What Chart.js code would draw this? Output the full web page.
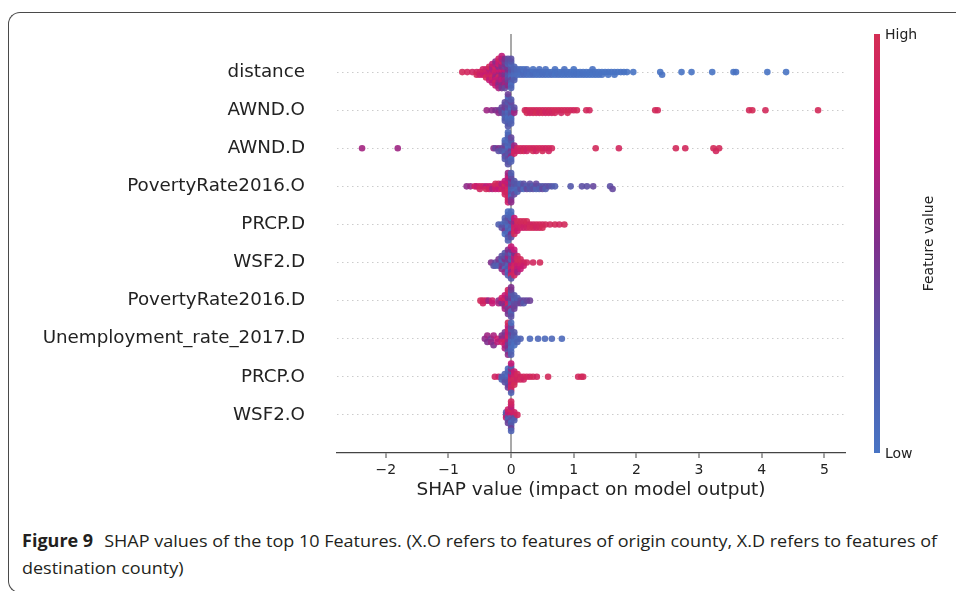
<!DOCTYPE html>
<html>
<head>
<meta charset="utf-8">
<script src="https://cdn.jsdelivr.net/npm/chart.js@4.4.1/dist/chart.umd.min.js"></script>
<style>
  html, body { margin:0; padding:0; background:#fff; }
  body { width:956px; height:591px; position:relative; overflow:hidden; }
  #frame { position:absolute; left:8px; top:12px; width:1000px; height:581px; border:1.5px solid #4a4a4a; border-right:none; border-radius:12px 0 0 12px; box-sizing:border-box; }
  #wrap { position:absolute; left:0; top:0; }
  .cap { position:absolute; left:22px; font-family:'Open Sans', sans-serif; font-size:17px; line-height:20px; color:#231f20; white-space:nowrap; transform-origin:0 50%; }
  .cap b { font-weight:700; margin-right:6px; }
</style>
</head>
<body>
<div id="frame"></div>
<div id="wrap"><canvas id="chart" width="956" height="505"></canvas></div>
<div class="cap" id="cap1" style="top:531px"><b>Figure 9</b> SHAP values of the top 10 Features. (X.O refers to features of origin county, X.D refers to features of</div>
<div class="cap" id="cap2" style="top:558px">destination county)</div>
<script>
// feature names, top row first
const features = ['distance', 'AWND.O', 'AWND.D', 'PovertyRate2016.O', 'PRCP.D',
  'WSF2.D', 'PovertyRate2016.D', 'Unemployment_rate_2017.D', 'PRCP.O', 'WSF2.O'];
const xTicks = [-2, -1, 0, 1, 2, 3, 4, 5];

// [shap value, feature value 0..1]
const distance = [
  [-0.78,.95],[-0.70,.93],[-0.62,.9],
  [-0.55,.88],[-0.55,.96],
  [-0.50,.92],[-0.50,.84],
  [-0.45,.94],[-0.45,.8],[-0.45,.88],
  [-0.40,.9],[-0.40,.76],[-0.40,.86],[-0.40,.97],
  [-0.35,.92],[-0.35,.8],[-0.35,.7],[-0.35,.88],[-0.35,.95],[-0.35,.74],
  [-0.30,.9],[-0.30,.82],[-0.30,.68],[-0.30,.95],[-0.30,.62],[-0.30,.85],[-0.30,.78],[-0.30,.72],
  [-0.25,.93],[-0.25,.7],[-0.25,.82],[-0.25,.6],[-0.25,.88],[-0.25,.75],[-0.25,.66],[-0.25,.9],[-0.25,.55],[-0.25,.8],
  [-0.20,.85],[-0.20,.62],[-0.20,.78],[-0.20,.92],[-0.20,.55],[-0.20,.7],[-0.20,.83],[-0.20,.6],[-0.20,.74],[-0.20,.5],[-0.20,.88],[-0.20,.66],
  [-0.15,.7],[-0.15,.55],[-0.15,.8],[-0.15,.62],[-0.15,.48],[-0.15,.75],[-0.15,.58],[-0.15,.68],[-0.15,.85],[-0.15,.52],[-0.15,.64],[-0.15,.45],[-0.15,.72],
  [-0.10,.6],[-0.10,.45],[-0.10,.7],[-0.10,.52],[-0.10,.38],[-0.10,.65],[-0.10,.48],[-0.10,.56],[-0.10,.4],[-0.10,.62],[-0.10,.5],[-0.10,.35],
  [-0.05,.4],[-0.05,.3],[-0.05,.5],[-0.05,.25],[-0.05,.45],[-0.05,.35],[-0.05,.2],[-0.05,.42],[-0.05,.28],[-0.05,.55],[-0.05,.32],
  [0.00,.2],[0.00,.15],[0.00,.28],[0.00,.1],[0.00,.22],[0.00,.32],[0.00,.12],[0.00,.18],[0.00,.25],[0.00,.08],[0.00,.3],[0.00,.14],
  [0.05,.12],[0.05,.1],[0.05,.18],[0.05,.08],[0.05,.15],[0.05,.2],
  [0.10,.1],[0.10,.06],[0.10,.12],
  [0.15,.08],[0.15,.05],[0.15,.1],
  [0.20,.06],[0.20,.09],[0.20,.04],
  [0.25,.07],[0.25,.05],[0.25,.08],
  [0.30,.06],[0.30,.04],
  [0.35,.05],[0.35,.07],[0.35,.03],
  [0.40,.05],[0.40,.04],
  [0.45,.06],[0.45,.03],[0.45,.05],
  [0.50,.04],[0.50,.05],
  [0.55,.03],[0.55,.05],[0.55,.04],
  [0.60,.04],[0.60,.03],
  [0.65,.03],[0.65,.05],
  [0.70,.04],[0.70,.02],[0.70,.03],
  [0.75,.03],[0.75,.04],
  [0.80,.02],[0.80,.03],
  [0.85,.03],[0.85,.02],[0.85,.04],
  [0.90,.02],[0.90,.03],
  [0.95,.03],[0.95,.02],
  [1.00,.02],[1.00,.03],[1.00,.01],
  [1.05,.02],[1.05,.03],
  [1.10,.02],[1.10,.01],
  [1.15,.02],[1.15,.03],
  [1.20,.01],[1.20,.02],
  [1.25,.02],[1.25,.01],
  [1.30,.02],[1.30,.01],[1.30,.03],
  [1.35,.01],[1.35,.02],
  [1.40,.02],[1.40,.01],
  [1.45,.01],[1.45,.02],
  [1.50,.01],
  [1.55,.02],[1.55,.01],
  [1.60,.01],
  [1.65,.02],[1.65,.01],
  [1.70,.01],[1.75,.01],[1.80,.02],[1.85,.01],
  [1.95,.01],[2.38,.01],[2.41,.02],[2.72,.01],[2.88,.01],[3.21,.01],[3.55,.01],[3.59,.02],[4.09,.01],[4.39,.01]
];
const awndO = [
  [-0.39,.6],[-0.31,.55],[-0.25,.5],[-0.20,.42],[-0.20,.55],
  [-0.15,.3],[-0.15,.4],[-0.15,.35],
  [-0.10,.3],[-0.10,.2],[-0.10,.45],[-0.10,.25],[-0.10,.38],[-0.10,.15],[-0.10,.32],[-0.10,.22],
  [-0.05,.2],[-0.05,.1],[-0.05,.28],[-0.05,.15],[-0.05,.35],[-0.05,.05],[-0.05,.22],[-0.05,.12],[-0.05,.3],[-0.05,.18],[-0.05,.08],[-0.05,.25],[-0.05,.4],
  [0.00,.15],[0.00,.25],[0.00,.1],[0.00,.3],[0.00,.2],[0.00,.05],[0.00,.35],[0.00,.12],[0.00,.22],[0.00,.18],
  [0.05,.45],[0.05,.6],[0.05,.3],
  [0.22,.95],[0.25,.92],[0.25,.97],[0.30,.95],[0.30,.9],[0.35,.96],[0.35,.93],[0.40,.92],[0.40,.98],
  [0.45,.95],[0.45,.9],[0.50,.94],[0.50,.97],[0.55,.93],[0.55,.9],[0.60,.96],[0.60,.92],[0.65,.95],[0.65,.9],
  [0.70,.97],[0.70,.93],[0.75,.94],[0.80,.96],[0.80,.91],[0.85,.95],[0.90,.93],[0.90,.97],[0.95,.94],[1.00,.92],[1.05,.95],
  [1.20,.95],[1.25,.93],[2.30,.96],[2.34,.94],[3.80,.95],[3.85,.97],[4.06,.95],[4.90,.96]
];
const awndD = [
  [-2.38,.62],[-1.81,.6],
  [-0.28,.55],[-0.25,.35],[-0.20,.5],[-0.20,.3],[-0.15,.4],[-0.15,.25],
  [-0.10,.3],[-0.10,.2],[-0.10,.4],[-0.10,.15],[-0.10,.25],[-0.10,.35],[-0.10,.1],[-0.10,.22],
  [-0.05,.1],[-0.05,.2],[-0.05,.05],[-0.05,.3],[-0.05,.15],[-0.05,.25],[-0.05,.08],[-0.05,.35],[-0.05,.12],[-0.05,.22],[-0.05,.18],[-0.05,.28],[-0.05,.1],
  [0.00,.2],[0.00,.45],[0.00,.1],[0.00,.3],[0.00,.15],[0.00,.55],[0.00,.25],[0.00,.05],[0.00,.35],[0.00,.18],
  [0.05,.7],[0.05,.85],[0.05,.6],[0.05,.9],
  [0.10,.92],[0.10,.85],[0.15,.95],[0.15,.88],[0.20,.9],[0.20,.96],[0.25,.93],[0.25,.87],[0.30,.95],
  [0.35,.9],[0.35,.97],[0.40,.93],[0.40,.88],[0.45,.95],[0.50,.92],[0.50,.96],[0.55,.9],[0.60,.94],[0.60,.9],[0.65,.93],
  [1.35,.95],[1.72,.93],[2.63,.95],[2.78,.94],[3.23,.96],[3.27,.93],[3.32,.95]
];
const povO = [
  [-0.71,.55],[-0.65,.6],[-0.58,.9],[-0.55,.8],[-0.50,.85],[-0.50,.92],[-0.45,.88],[-0.40,.7],[-0.40,.95],
  [-0.35,.8],[-0.35,.9],[-0.30,.85],[-0.30,.65],[-0.25,.9],[-0.25,.8],[-0.25,.95],[-0.20,.88],[-0.20,.75],[-0.20,.93],
  [-0.15,.85],[-0.15,.9],[-0.15,.7],
  [-0.10,.9],[-0.10,.8],[-0.10,.95],[-0.10,.85],[-0.10,.75],[-0.10,.92],
  [-0.05,.85],[-0.05,.9],[-0.05,.7],[-0.05,.95],[-0.05,.8],[-0.05,.88],[-0.05,.65],[-0.05,.92],[-0.05,.78],[-0.05,.9],[-0.05,.6],[-0.05,.84],
  [0.00,.3],[0.00,.2],[0.00,.4],[0.00,.15],[0.00,.35],[0.00,.25],[0.00,.5],[0.00,.1],[0.00,.3],[0.00,.45],[0.00,.2],[0.00,.55],
  [0.05,.2],[0.05,.15],[0.05,.3],[0.05,.1],[0.05,.25],[0.05,.35],
  [0.10,.2],[0.10,.1],[0.10,.25],[0.10,.15],
  [0.15,.2],[0.15,.3],[0.15,.15],[0.20,.25],[0.20,.1],[0.20,.3],[0.25,.2],[0.25,.35],
  [0.30,.15],[0.30,.25],[0.30,.3],[0.35,.2],[0.35,.3],[0.40,.25],[0.40,.15],[0.40,.35],
  [0.45,.3],[0.45,.2],[0.50,.25],[0.50,.35],[0.55,.3],[0.55,.2],[0.60,.3],[0.65,.25],
  [0.70,.2],[0.95,.25],[1.13,.3],[1.21,.3],[1.31,.35],[1.58,.3],[1.62,.35]
];
const prcpD = [
  [-0.20,.2],[-0.15,.1],[-0.15,.3],
  [-0.10,.1],[-0.10,.3],[-0.10,.15],[-0.10,.45],[-0.10,.2],[-0.10,.05],
  [-0.05,.1],[-0.05,.05],[-0.05,.2],[-0.05,.15],[-0.05,.3],[-0.05,.08],[-0.05,.12],[-0.05,.25],[-0.05,.05],[-0.05,.18],
  [0.00,.1],[0.00,.2],[0.00,.4],[0.00,.05],[0.00,.15],[0.00,.5],[0.00,.12],[0.00,.3],[0.00,.08],
  [0.05,.7],[0.05,.85],[0.05,.6],[0.05,.9],[0.05,.75],[0.05,.95],
  [0.10,.9],[0.10,.85],[0.10,.95],[0.10,.8],
  [0.15,.92],[0.15,.88],[0.15,.96],[0.20,.9],[0.20,.85],[0.20,.95],[0.25,.93],[0.25,.88],[0.25,.97],
  [0.30,.92],[0.30,.95],[0.35,.9],[0.35,.96],[0.40,.94],[0.40,.9],[0.45,.95],[0.45,.92],[0.50,.93],[0.50,.97],
  [0.55,.95],[0.62,.94],[0.70,.96],[0.77,.93],[0.85,.95]
];
const wsf2D = [
  [-0.32,.5],[-0.28,.3],[-0.25,.35],[-0.25,.2],
  [-0.20,.3],[-0.20,.15],[-0.20,.45],
  [-0.15,.25],[-0.15,.4],[-0.15,.15],[-0.15,.55],[-0.15,.3],
  [-0.10,.2],[-0.10,.35],[-0.10,.5],[-0.10,.1],[-0.10,.3],[-0.10,.6],[-0.10,.25],
  [-0.05,.3],[-0.05,.15],[-0.05,.45],[-0.05,.25],[-0.05,.6],[-0.05,.1],[-0.05,.35],[-0.05,.2],[-0.05,.5],
  [0.00,.4],[0.00,.7],[0.00,.2],[0.00,.85],[0.00,.3],[0.00,.6],[0.00,.15],[0.00,.9],[0.00,.5],[0.00,.25],[0.00,.75],
  [0.05,.8],[0.05,.9],[0.05,.65],[0.05,.95],[0.05,.7],[0.05,.85],[0.05,.5],[0.05,.92],[0.05,.75],
  [0.10,.9],[0.10,.8],[0.10,.95],[0.10,.7],[0.10,.88],[0.10,.6],
  [0.15,.92],[0.15,.85],[0.15,.95],[0.15,.75],
  [0.20,.9],[0.20,.8],[0.25,.9],[0.35,.92],[0.46,.95]
];
const povD = [
  [-0.49,.95],[-0.45,.92],[-0.45,.88],[-0.40,.9],[-0.36,.6],[-0.30,.85],[-0.30,.75],[-0.20,.55],[-0.20,.65],
  [-0.15,.7],[-0.15,.5],[-0.15,.85],
  [-0.10,.8],[-0.10,.6],[-0.10,.9],[-0.10,.5],[-0.10,.75],[-0.10,.65],
  [-0.05,.7],[-0.05,.85],[-0.05,.5],[-0.05,.9],[-0.05,.6],[-0.05,.4],[-0.05,.8],[-0.05,.55],[-0.05,.92],[-0.05,.45],
  [0.00,.3],[0.00,.2],[0.00,.45],[0.00,.15],[0.00,.35],[0.00,.6],[0.00,.25],[0.00,.1],[0.00,.4],[0.00,.2],[0.00,.5],[0.00,.3],
  [0.05,.2],[0.05,.3],[0.05,.15],[0.05,.35],[0.05,.25],[0.05,.4],
  [0.10,.25],[0.10,.35],[0.10,.2],
  [0.15,.3],[0.15,.4],[0.20,.35],[0.20,.25],[0.25,.35],[0.30,.4]
];
const unemp = [
  [-0.42,.55],[-0.38,.5],[-0.38,.6],[-0.32,.45],[-0.32,.58],[-0.28,.65],[-0.28,.5],[-0.22,.8],[-0.22,.7],
  [-0.15,.6],[-0.15,.85],[-0.15,.5],
  [-0.10,.7],[-0.10,.9],[-0.10,.55],[-0.10,.8],[-0.10,.45],[-0.10,.65],
  [-0.05,.8],[-0.05,.6],[-0.05,.9],[-0.05,.4],[-0.05,.75],[-0.05,.5],[-0.05,.85],[-0.05,.3],[-0.05,.7],[-0.05,.55],[-0.05,.95],
  [0.00,.2],[0.00,.1],[0.00,.3],[0.00,.15],[0.00,.4],[0.00,.05],[0.00,.25],[0.00,.12],[0.00,.35],[0.00,.18],[0.00,.08],
  [0.05,.15],[0.05,.1],[0.05,.2],[0.05,.05],[0.05,.25],
  [0.10,.1],[0.10,.15],[0.15,.15],
  [0.30,.1],[0.43,.12],[0.54,.1],[0.65,.12],[0.81,.1]
];
const prcpO = [
  [-0.26,.9],[-0.20,.85],[-0.15,.2],[-0.15,.15],
  [-0.10,.1],[-0.10,.2],[-0.10,.15],[-0.10,.3],
  [-0.05,.1],[-0.05,.2],[-0.05,.05],[-0.05,.3],[-0.05,.15],[-0.05,.25],[-0.05,.08],[-0.05,.4],
  [0.00,.85],[0.00,.9],[0.00,.7],[0.00,.95],[0.00,.3],[0.00,.8],[0.00,.6],[0.00,.92],[0.00,.2],[0.00,.88],[0.00,.75],[0.00,.15],
  [0.05,.9],[0.05,.95],[0.05,.85],[0.05,.92],[0.05,.8],[0.05,.97],
  [0.10,.92],[0.10,.88],[0.10,.95],
  [0.15,.9],[0.15,.95],[0.20,.93],[0.20,.88],[0.25,.94],[0.30,.9],[0.35,.95],[0.41,.92],
  [0.59,.95],[1.07,.93],[1.12,.96],[1.15,.94]
];
const wsf2O = [
  [-0.08,.3],[-0.08,.8],[-0.08,.2],
  [-0.05,.9],[-0.05,.25],[-0.05,.7],[-0.05,.15],[-0.05,.85],[-0.05,.4],
  [0.00,.9],[0.00,.2],[0.00,.8],[0.00,.3],[0.00,.95],[0.00,.1],[0.00,.7],[0.00,.25],[0.00,.85],[0.00,.4],[0.00,.92],[0.00,.15],
  [0.05,.9],[0.05,.3],[0.05,.85],[0.05,.2],
  [0.10,.92]
];
const rows = [distance, awndO, awndD, povO, prcpD, wsf2D, povD, unemp, prcpO, wsf2O];

// colour map: low (blue) -> high (red)
const cmapStops = [
  [0.00, [72, 116, 196]],
  [0.25, [84, 88, 170]],
  [0.50, [128, 48, 140]],
  [0.75, [200, 24, 118]],
  [1.00, [212, 46, 84]]
];
function cmap(v, a) {
  for (let i = 1; i < cmapStops.length; i++) {
    const [p1, c1] = cmapStops[i];
    const [p0, c0] = cmapStops[i - 1];
    if (v <= p1) {
      const t = (v - p0) / (p1 - p0);
      const c = c0.map((k, j) => Math.round(k + (c1[j] - k) * t));
      return `rgba(${c[0]},${c[1]},${c[2]},${a})`;
    }
  }
  const c = cmapStops[cmapStops.length - 1][1];
  return `rgba(${c[0]},${c[1]},${c[2]},${a})`;
}

// beeswarm: stack points that fall in the same x bin, alternately below/above the row
const BIN = 0.05;
function swarm(points, row) {
  const bins = new Map();
  const lay = points.map(p => {
    const k = Math.round(p[0] / BIN);
    const n = bins.get(k) || 0;
    bins.set(k, n + 1);
    return Math.ceil(n / 2) * (n % 2 ? 1 : -1);
  });
  const m = Math.max(1, ...lay.map(Math.abs));
  const unit = Math.min(0.42 / m, 0.09);
  return points.map((p, i) => ({ x: p[0], y: row + lay[i] * unit }));
}

const datasets = rows.map((pts, i) => ({
  data: swarm(pts, i),
  pointBackgroundColor: pts.map(p => cmap(p[1], 0.9)),
  pointBorderWidth: 0,
  pointRadius: 3.3,
  showLine: false
}));

const colorBar = {
  id: 'colorBar',
  afterDraw(chart) {
    const { ctx, chartArea } = chart;
    const top = chartArea.top, bot = chartArea.bottom;
    const g = ctx.createLinearGradient(0, bot, 0, top);
    cmapStops.forEach(([p, c]) => g.addColorStop(p, `rgb(${c[0]},${c[1]},${c[2]})`));
    ctx.save();
    ctx.fillStyle = g;
    ctx.fillRect(874, top, 6, bot - top);
    ctx.fillStyle = '#222';
    ctx.font = '14px "DejaVu Sans"';
    ctx.textAlign = 'left';
    ctx.textBaseline = 'middle';
    ctx.fillText('High', 885, top + 1);
    ctx.fillText('Low', 885, bot + 1);
    ctx.translate(929, (top + bot) / 2);
    ctx.rotate(-Math.PI / 2);
    ctx.textAlign = 'center';
    ctx.fillText('Feature value', 0, 0);
    ctx.restore();
  }
};

const fmt = v => v < 0 ? '\u2212' + Math.abs(v) : String(v);

new Chart(document.getElementById('chart'), {
  type: 'scatter',
  data: { datasets },
  options: {
    responsive: false,
    animation: false,
    events: [],
    layout: { padding: { top: 34, right: 111, left: 0, bottom: 0 } },
    plugins: { legend: { display: false }, tooltip: { enabled: false } },
    scales: {
      x: {
        type: 'linear', min: -2.78, max: 5.33,
        afterBuildTicks: s => { s.ticks = xTicks.map(v => ({ value: v })); },
        afterFit: s => { s.height = 52; s.paddingLeft = 0; s.paddingRight = 0; },
        grid: {
          color: c => (c.tick && c.tick.value === 0) ? '#a9a9a9' : 'rgba(0,0,0,0)',
          lineWidth: 2, drawTicks: true, tickLength: 5, tickColor: '#444', tickWidth: 1
        },
        border: { display: true, color: '#444', width: 1.3 },
        ticks: { font: { family: 'DejaVu Sans', size: 14 }, color: '#222', padding: 4, callback: fmt, maxRotation: 0 },
        title: { display: true, text: 'SHAP value (impact on model output)', font: { family: 'DejaVu Sans', size: 18.5 }, color: '#222', padding: { top: 4, bottom: 4 } }
      },
      y: {
        type: 'linear', min: -1, max: 10, reverse: true,
        afterBuildTicks: s => { s.ticks = features.map((f, i) => ({ value: i })); },
        afterFit: s => { s.width = 337; s.paddingTop = 0; s.paddingBottom = 0; },
        grid: { color: '#cccccc', lineWidth: 1, drawTicks: false },
        border: { display: false, dash: [1.5, 3.5] },
        ticks: { font: { family: 'DejaVu Sans', size: 18.3 }, color: '#222', padding: 32, callback: v => features[v] }
      }
    }
  },
  plugins: [colorBar]
});

// fit the caption to the width it has in the figure
const c1 = document.getElementById('cap1'), c2 = document.getElementById('cap2');
const k = 915 / c1.scrollWidth;
c1.style.transform = `scaleX(${k})`;
c2.style.transform = `scaleX(${k})`;
</script>
</body>
</html>
